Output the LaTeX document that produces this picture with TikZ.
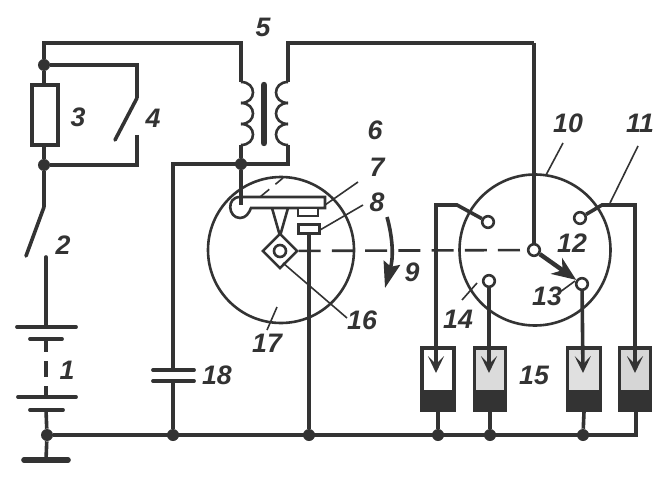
\documentclass[tikz,border=0pt]{standalone}
\usepackage{fontspec}
\setmainfont{Liberation Sans}
\usetikzlibrary{arrows.meta,shapes.geometric}
\definecolor{inkgray}{gray}{0.2}
\tikzset{
  wire/.style={draw=inkgray,line width=0.09cm},
  thinwire/.style={draw=inkgray,line width=0.065cm},
  leader/.style={draw=inkgray,line width=0.04cm},
  plate/.style={draw=inkgray,line width=0.095cm,line cap=round},
  junction/.style={circle,fill=inkgray,inner sep=0pt,minimum size=0.3cm},
  terminal/.style={circle,draw=inkgray,fill=white,line width=0.065cm,inner sep=0pt,minimum size=0.29cm},
  numlabel/.style={inner sep=0pt,text=inkgray,font=\fontsize{19}{19}\selectfont\bfseries\itshape},
  plughead/.style={-{Stealth[length=0.42cm,width=0.4cm,inset=0.2cm]}}
}
\begin{document}
\begin{tikzpicture}[x=0.025cm,y=-0.025cm]
  \useasboundingbox (0,0) rectangle (669,485);

  % Marking the junctions
  \node[junction] (topdot) at (44,65) {};
  \node[junction] (lowdot) at (44,165) {};
  \node[junction] (coildot) at (241,164) {};
  \node[junction] (earthdot) at (47,435) {};
  \node[junction] (capdot) at (173,435) {};
  \node[junction] (gapdot) at (309,435) {};
  \node[junction] (plugdota) at (438,435) {};
  \node[junction] (plugdotb) at (490,435) {};
  \node[junction] (plugdotc) at (583,435) {};

  % Free ends of the wiring
  \coordinate (cornera) at (44,43);
  \coordinate (cornerb) at (241,43);
  \coordinate (coilatop) at (241,82);
  \coordinate (coilabot) at (241,145);
  \coordinate (coilbtop) at (288,82);
  \coordinate (coilbbot) at (288,145);
  \coordinate (cornerc) at (288,43);
  \coordinate (cornerd) at (534,43);
  \coordinate (cornere) at (288,164);
  \coordinate (cornerf) at (173,164);
  \coordinate (bladea) at (137,98);
  \coordinate (bladeb) at (115,140);
  \coordinate (contacta) at (137,135);
  \coordinate (bladec) at (44,207);
  \coordinate (bladed) at (26,256);
  \coordinate (contactb) at (46,257);
  \coordinate (earth) at (46,460);
  \coordinate (endwire) at (636,435);

  % Drawing the supply side
  \draw[wire] (topdot) -- (cornera) -- (cornerb) -- (coilatop);
  \draw[wire] (topdot) -- (137,65) -- (bladea);
  \draw[wire,line cap=round] (bladea) -- (bladeb);
  \draw[wire] (contacta) -- (137,165) -- (lowdot);
  \draw[wire] (topdot) -- (lowdot);
  \node[rectangle,draw=inkgray,fill=white,line width=0.085cm,minimum width=0.65cm,minimum height=1.5cm,inner sep=0pt] (resistor) at (45,115) {};
  \draw[wire] (lowdot) -- (bladec);
  \draw[wire,line cap=round] (bladec) -- (bladed);
  \draw[wire,line cap=round] (contactb) -- (46,327);

  % Drawing the battery
  \draw[plate] (17,327) -- (76,327);
  \draw[plate] (30,339) -- (62,339);
  \draw[wire] (46,339) -- (46,352);
  \draw[wire] (46,361) -- (46,377);
  \draw[wire] (46,386) -- (46,397);
  \draw[plate] (18,397) -- (76,397);
  \draw[plate] (30,410) -- (63,410);
  \draw[wire] (46,410) -- (earthdot) -- (earth);
  \draw[plate,line width=0.14cm] (24,460) -- (68,460);

  % Drawing the coils and the core
  \foreach \y in {82,103,124} {
    \draw[thinwire] (241,\y) .. controls (257,\y) and (257,\y+21) .. (241,\y+21);
    \draw[thinwire] (288,\y) .. controls (272,\y) and (272,\y+21) .. (288,\y+21);
  }
  \draw[draw=inkgray,line width=0.16cm,line cap=round] (264,85) -- (264,143);
  \draw[wire] (coilabot) -- (coildot);
  \draw[wire] (coilbbot) -- (cornere) -- (cornerf) -- (173,370);
  \draw[wire] (coilbtop) -- (cornerc) -- (cornerd);

  % Drawing the capacitor
  \draw[plate] (153,370) -- (194,370);
  \draw[plate] (153,381) -- (194,381);
  \draw[wire] (173,381) -- (capdot);

  % Drawing the earth rail
  \draw[wire] (earthdot) -- (endwire) -- (636,405);

  % Drawing the breaker
  \draw[thinwire] (281,250) circle (73);
  \draw[thinwire,fill=white] (325,197) -- (240,197) .. controls (226,197) and (228,218) .. (240,218) .. controls (246,218) and (249,213) .. (251,208) -- (325,208) -- cycle;
  \draw[wire] (coildot) -- (241,205);
  \node[rectangle,draw=inkgray,fill=white,line width=0.055cm,minimum width=0.5cm,minimum height=0.2cm,inner sep=0pt] (pointa) at (308,212) {};
  \node[rectangle,draw=inkgray,fill=white,line width=0.065cm,minimum width=0.52cm,minimum height=0.22cm,inner sep=0pt] (pointb) at (309,229) {};
  \draw[wire] (pointb) -- (gapdot);

  % Drawing the cam
  \draw[thinwire] (272,208) -- (280,236) -- (288,208);
  \node[diamond,aspect=1,draw=inkgray,fill=white,line width=0.06cm,minimum size=0.88cm,inner sep=0pt] (cam) at (280,251) {};
  \draw[thinwire] (280,251) circle (6);

  % Drawing the axis
  \node[terminal] (rotor) at (534,250) {};
  \draw[thinwire,dash pattern=on 0.55cm off 0.28cm] (cam) -- (rotor);

  % Drawing the distributor
  \draw[thinwire] (535,250) circle (75.5);
  \node[terminal] (contactnw) at (488,222) {};
  \node[terminal] (contactne) at (580,218) {};
  \node[terminal] (contactsw) at (489,281) {};
  \node[terminal] (contactse) at (582,284) {};
  \draw[wire] (cornerd) -- (rotor);
  \draw[wire,line width=0.11cm,-{Stealth[length=0.6cm,width=0.48cm,inset=0.18cm]}] (rotor) -- (contactse);

  % Drawing the plugs
  \foreach \n/\x/\w/\c in {a/438/32/white,b/490/31/black!14,c/584/33/black!12,d/635/31/black!16} {
    \node[rectangle,draw=inkgray,fill=\c,line width=0.085cm,minimum width=\w*0.025cm,minimum height=1.55cm,inner sep=0pt] (plug\n) at (\x,379) {};
    \fill[inkgray] (plug\n.south west) rectangle ([yshift=0.55cm]plug\n.south east);
  }
  \coordinate (tipa) at (436,373);
  \coordinate (tipb) at (489,373);
  \coordinate (tipc) at (583,373);
  \coordinate (tipd) at (635,373);
  \draw[wire,plughead] (contactnw) -- (457,205) -- (436,205) -- (tipa);
  \draw[wire,plughead] (contactsw) -- (tipb);
  \draw[wire,plughead] (contactse) -- (tipc);
  \draw[wire,plughead] (contactne) -- (602,205) -- (635,205) -- (tipd);
  \draw[wire] (plugdota) -- (plugb.south -| plugdota);
  \draw[wire] (plugdotb) -- (plugb.south);
  \draw[wire] (plugdotc) -- (plugc.south);

  % Rotation arrow
  \coordinate (arca) at (387,217);
  \coordinate (arcb) at (385,288);
  \draw[wire,-{Stealth[length=0.65cm,width=0.42cm,inset=0.1cm]}] (arca) .. controls (392,235) and (394,255) .. (arcb);

  % Drawing the leaders
  \draw[leader] (325,205) -- (358,182);
  \draw[leader] (320,230) -- (363,205);
  \draw[leader] (283,263) -- (347,318);
  \draw[leader] (277,307) -- (267,330);
  \draw[leader] (546,175) -- (563,143);
  \draw[leader] (610,203) -- (638,146);
  \draw[leader] (560,292) -- (575,281);
  \draw[leader] (462,300) -- (477,283);
  \draw[leader,dash pattern=on 0.3cm off 0.2cm] (260,197) -- (283,178);

  % Marking the numbers
  \node[numlabel] (labela) at (67,370) {1};
  \node[numlabel] (labelb) at (63,245) {2};
  \node[numlabel] (labelc) at (78,117) {3};
  \node[numlabel] (labeld) at (153,118) {4};
  \node[numlabel] (labele) at (263,27) {5};
  \node[numlabel] (labelf) at (375,130) {6};
  \node[numlabel] (labelg) at (377,167) {7};
  \node[numlabel] (labelh) at (377,202) {8};
  \node[numlabel] (labeli) at (412,272) {9};
  \node[numlabel] (labelj) at (568,123) {10};
  \node[numlabel] (labelk) at (640,123) {11};
  \node[numlabel] (labell) at (572,243) {12};
  \node[numlabel] (labelm) at (547,296) {13};
  \node[numlabel] (labeln) at (458,319) {14};
  \node[numlabel] (labelo) at (534,375) {15};
  \node[numlabel] (labelp) at (362,320) {16};
  \node[numlabel] (labelq) at (267,343) {17};
  \node[numlabel] (labelr) at (217,375) {18};
\end{tikzpicture}
\end{document}
